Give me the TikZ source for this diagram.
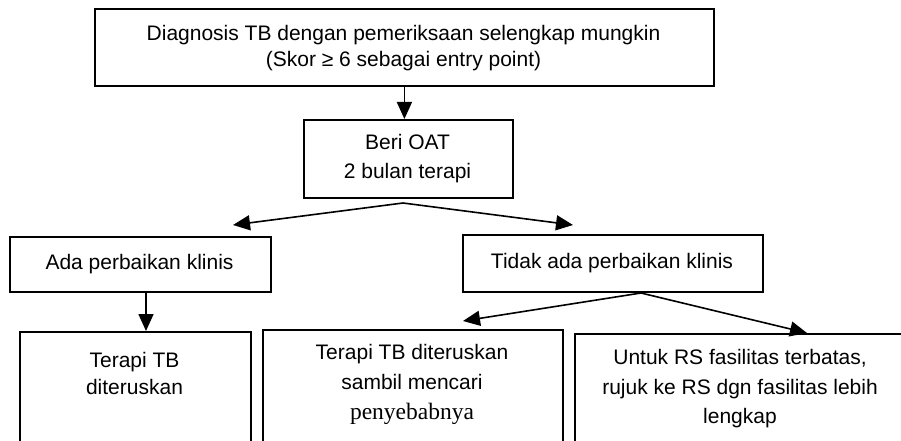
\documentclass[tikz,border=0pt]{standalone}
\usepackage{fontspec}
\setmainfont{Liberation Sans}
\newfontfamily\serifface{Liberation Serif}
\usetikzlibrary{arrows.meta}
\tikzset{
  boxnode/.style={draw=black, line width=1.8pt, rectangle, inner sep=0pt, align=center},
  txtnode/.style={inner sep=0pt, align=center},
  arr/.style={line width=1.6pt, -{Triangle[length=17pt,width=15pt]}},
}
\begin{document}
\begin{tikzpicture}[x=1pt,y=-1pt, font={\fontsize{21}{26}\selectfont}]
\useasboundingbox (0,0) rectangle (901,441);
\clip (0,0) rectangle (901,441);
\fill[white] (0,0) rectangle (901,441);

% top box
\node[boxnode, minimum width=619pt, minimum height=77pt, anchor=north west] (top) at (94,8) {};
\node[txtnode, font={\fontsize{21}{26}\selectfont}] (toptxt) at (403.5,48) {Diagnosis TB dengan pemeriksaan selengkap mungkin\\(Skor ≥ 6 sebagai entry point)};

% Beri OAT
\node[boxnode, minimum width=209pt, minimum height=78pt, anchor=north west] (oat) at (303,119) {};
\node[txtnode, font={\fontsize{21}{29}\selectfont}] (oattxt) at (407.5,159) {Beri OAT\\2 bulan terapi};

% second level
\node[boxnode, minimum width=261pt, minimum height=55pt, anchor=north west] (ada) at (9,236) {};
\node[txtnode] (adatxt) at (139.5,264.5) {Ada perbaikan klinis};
\node[boxnode, minimum width=300pt, minimum height=57pt, anchor=north west] (tidak) at (462,234) {};
\node[txtnode] (tidaktxt) at (612,263.5) {Tidak ada perbaikan klinis};

% bottom boxes
\node[boxnode, minimum width=231pt, minimum height=160pt, anchor=north west] (b1) at (19,331) {};
\node[txtnode, font={\fontsize{21}{27}\selectfont}] (b1t) at (134.5,373) {Terapi TB\\diteruskan};
\node[boxnode, minimum width=300pt, minimum height=160pt, anchor=north west] (b2) at (262,329) {};
\node[txtnode, font={\fontsize{21}{30}\selectfont}] (b2t) at (412,384.5) {Terapi TB diteruskan\\sambil mencari\\{\serifface\fontsize{23.5}{30}\selectfont penyebabnya}};
\node[boxnode, minimum width=360pt, minimum height=160pt, anchor=north west] (b3) at (574,333) {};
\node[txtnode, font={\fontsize{21}{29.5}\selectfont}] (b3t) at (740,389) {Untuk RS fasilitas terbatas,\\rujuk ke RS dgn fasilitas lebih\\lengkap};

% connectors
\draw[arr] (top.south) -- (top.south |- oat.north);
\coordinate (s1) at (403,203);
\coordinate (e1) at (233,225);
\coordinate (e2) at (573,225);
\draw[arr] (s1) -- (e1);
\draw[arr] (s1) -- (e2);
\coordinate (adaout) at (146,291);
\draw[arr] (adaout) -- (adaout |- b1.north);
\coordinate (s2) at (641,293);
\coordinate (e3) at (463,321);
\coordinate (e4) at (807,333);
\draw[arr] (s2) -- (e3);
\draw[arr] (s2) -- (e4);
\end{tikzpicture}
\end{document}
